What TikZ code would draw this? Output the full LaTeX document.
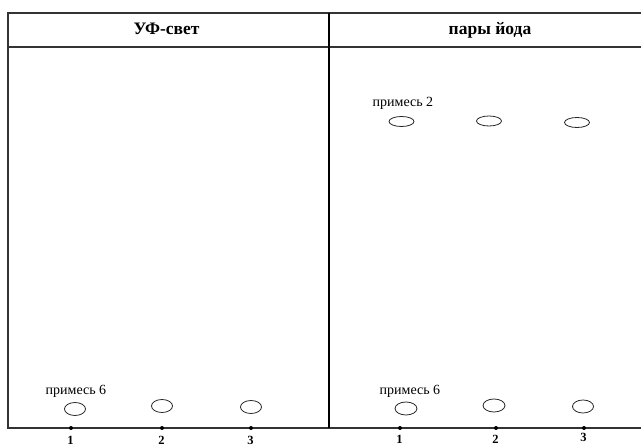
\documentclass[tikz,border=0pt]{standalone}
\usepackage{fontspec}
\setmainfont{Liberation Serif}
\usetikzlibrary{shapes.geometric}
\begin{document}
\begin{tikzpicture}[x=1pt,y=-1pt,
  frame/.style={draw=black!80,line width=1.3pt},
  divider/.style={draw=black,line width=2pt},
  spot/.style={draw=black!85,line width=0.8pt,ellipse,inner sep=0pt,minimum width=21pt,minimum height=13pt},
  flatspot/.style={spot,minimum width=25pt,minimum height=10pt},
  head/.style={font=\bfseries\fontsize{17.5}{19}\selectfont,anchor=base},
  lbl/.style={font=\fontsize{14}{16}\selectfont,anchor=base},
  num/.style={font=\bfseries\fontsize{12.5}{13}\selectfont,inner sep=0pt},
  tick/.style={fill=black,circle,inner sep=0pt,minimum size=4pt}]
\useasboundingbox (0,0) rectangle (641,446);
% frame
\coordinate (tl) at (8,13); \coordinate (tr) at (641,13);
\coordinate (hl) at (8,47); \coordinate (hr) at (641,47);
\coordinate (bl) at (8,428); \coordinate (br) at (641,428);
\coordinate (dt) at (328.5,13); \coordinate (db) at (328.5,428);
\draw[frame] (tr) -- (tl) -- (bl) -- (br);
\draw[frame] (hl) -- (hr);
\draw[divider] (dt) -- (db);
% headers
\node[head] (h1) at (166.5,34.5) {УФ-свет};
\node[head] (h2) at (490,34.5) {пары йода};
% spots
\node[spot] (s1) at (75,409) {};
\node[spot] (s2) at (162,406) {};
\node[spot] (s3) at (251,407) {};
\node[spot,minimum width=22pt] (s4) at (406,408.5) {};
\node[spot,minimum width=22pt] (s5) at (494,405.5) {};
\node[spot] (s6) at (583,406.5) {};
\node[flatspot] (t1) at (401.5,121.5) {};
\node[flatspot] (t2) at (489,121) {};
\node[flatspot] (t3) at (577,122.5) {};
% labels
\node[lbl] (l1) at (76,394.5) {примесь 6};
\node[lbl] (l2) at (410,394.5) {примесь 6};
\node[lbl] (l3) at (403,107) {примесь 2};
% ticks and numbers
\foreach \x/\n/\y [count=\i] in {71/1/440,162/2/440,251/3/440,400/1/439,496/2/439,584/3/437}{
  \node[tick] (k\i) at (\x,428) {};
  \node[num] (n\i) at (\x-0.5,\y) {\n};
}
\end{tikzpicture}
\end{document}
